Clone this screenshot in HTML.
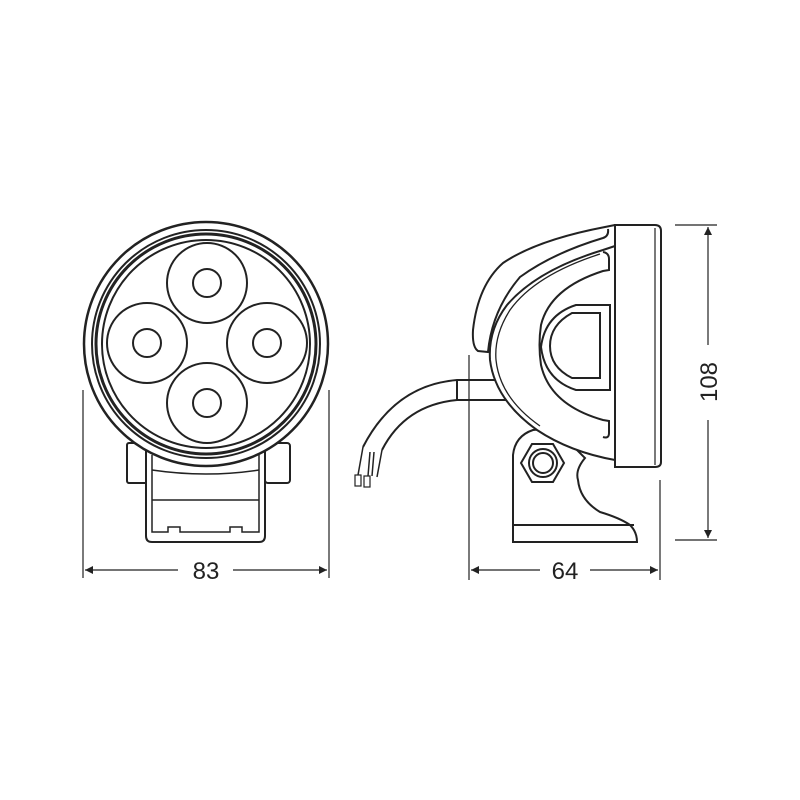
<!DOCTYPE html>
<html><head><meta charset="utf-8"><style>
html,body{margin:0;padding:0;background:#fff;}
svg{display:block}
text{font-family:"Liberation Sans",sans-serif;font-size:24px;fill:#222}
</style></head><body>
<svg width="800" height="800" viewBox="0 0 800 800" xmlns="http://www.w3.org/2000/svg">
<defs>
<marker id="a" viewBox="0 0 10 10" refX="10" refY="5" markerWidth="14" markerHeight="8" markerUnits="userSpaceOnUse" orient="auto-start-reverse">
<path d="M0,0 L10,5 L0,10 Z" fill="#222"/></marker>
</defs>
<g fill="none" stroke="#222" stroke-width="2">
<!-- FRONT VIEW -->
<rect x="127" y="443" width="20" height="40" rx="2" fill="#fff"/>
<rect x="265" y="443" width="25" height="40" rx="3" fill="#fff"/>
<path d="M146,450 L146,536 Q146,542 152,542 L259,542 Q265,542 265,536 L265,450" fill="#fff"/>
<path d="M152,455 L152,532 L168,532 L168,527 L180,527 L180,532 L230,532 L230,527 L242,527 L242,532 L259,532 L259,455" stroke-width="1.5"/>
<line x1="152" y1="500" x2="259" y2="500" stroke-width="1.5"/>
<path d="M152,470 Q206,478 259,470" stroke-width="1.5"/>
<circle cx="206" cy="344" r="122" fill="#fff" stroke-width="2.5"/>
<circle cx="206" cy="344" r="114"/>
<circle cx="206" cy="344" r="110" stroke-width="3"/>
<circle cx="206" cy="344" r="104"/>
<circle cx="207" cy="283" r="40"/><circle cx="207" cy="283" r="14"/>
<circle cx="147" cy="343" r="40"/><circle cx="147" cy="343" r="14"/>
<circle cx="267" cy="343" r="40"/><circle cx="267" cy="343" r="14"/>
<circle cx="207" cy="403" r="40" fill="#fff"/><circle cx="207" cy="403" r="14"/>
<g stroke-width="1.2">
<line x1="83" y1="390" x2="83" y2="578"/>
<line x1="329" y1="390" x2="329" y2="578"/>
<line x1="85" y1="570" x2="178" y2="570" marker-start="url(#a)"/>
<line x1="233" y1="570" x2="327" y2="570" marker-end="url(#a)"/>
</g>

<!-- SIDE VIEW -->
<!-- cable -->
<path d="M507,380 L457,380 Q395,385 363,447"/>
<path d="M507,400 L457,400 Q405,405 382,450"/>
<line x1="457" y1="380" x2="457" y2="400"/>
<path d="M363,447 L358,475 M382,450 L377,477 M370,452 L368,476 M374,452 L372,476" stroke-width="1.5"/>
<rect x="355" y="475" width="6" height="11" stroke-width="1.2"/>
<rect x="364" y="476" width="6" height="11" stroke-width="1.2"/>
<!-- base bracket -->
<path d="M513,542 L513,455 Q515,436 533,430 L555,428 L585,458 Q575,470 578,480 Q580,500 600,512 Q620,518 630,525 Q637,532 637,542 Z" fill="#fff"/>
<line x1="514" y1="525" x2="634" y2="525"/>
<!-- nut -->
<polygon points="564,463 553,482 532,482 521,463 532,444 553,444" fill="#fff"/>
<circle cx="543" cy="463" r="14"/>
<circle cx="543" cy="463" r="10"/>
<!-- plate -->
<path d="M615,225 L655,225 Q661,225 661,231 L661,462 Q661,467 655,467 L615,467 Z" fill="#fff"/>
<line x1="655" y1="228" x2="655" y2="465" stroke-width="1.2"/>
<!-- housing top lip -->
<path d="M615,225 L605,227 Q537,240 503,263 Q478,285 473,330 Q472,347 478,351 L488,352 Q492,310 520,277 Q553,253 603,238 Q609,236 608,229" fill="#fff"/>
<!-- body -->
<path d="M615,246 L603,250 Q537,270 507,305 Q488,330 490,360 Q495,400 537,430 Q570,452 615,460 Z" fill="#fff"/>
<path d="M600,254 Q535,275 510,310 Q494,335 496,360 Q500,398 540,426" stroke-width="1.3"/>
<!-- U band inner edge + caps -->
<path d="M603,252 Q609,253 609,259 L609,270 L603,271 Q550,288 541,325 Q538,345 541,365 Q550,405 603,420 L609,421 L609,433 Q609,439 603,437"/>
<!-- D ring -->
<path d="M610,305 L576,305 Q545,315 541,347 Q545,380 576,390 L610,390 Z"/>
<path d="M600,313 L572,313 Q550,325 550,346 Q550,367 572,378 L600,378 Z"/>
<!-- 64 dim -->
<g stroke-width="1.2">
<line x1="469" y1="355" x2="469" y2="580"/>
<line x1="660" y1="480" x2="660" y2="580"/>
<line x1="471" y1="570" x2="540" y2="570" marker-start="url(#a)"/>
<line x1="590" y1="570" x2="658" y2="570" marker-end="url(#a)"/>
<line x1="675" y1="225" x2="717" y2="225"/>
<line x1="675" y1="540" x2="717" y2="540"/>
<line x1="708" y1="227" x2="708" y2="345" marker-start="url(#a)"/>
<line x1="708" y1="420" x2="708" y2="538" marker-end="url(#a)"/>
</g>
</g>
<text x="206" y="579" text-anchor="middle">83</text>
<text x="565" y="579" text-anchor="middle">64</text>
<text x="0" y="0" text-anchor="middle" transform="translate(717,382) rotate(-90)">108</text>
</svg>
</body></html>
